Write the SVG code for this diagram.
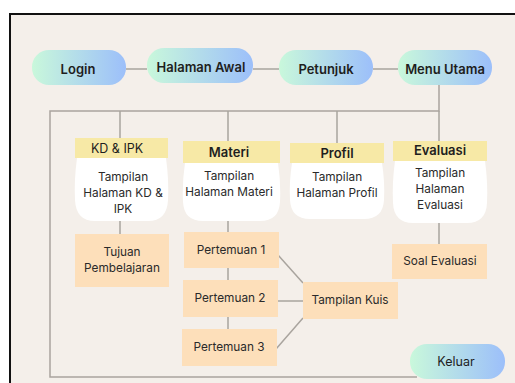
<svg xmlns="http://www.w3.org/2000/svg" width="515" height="383" viewBox="0 0 515 383">
<defs>
<linearGradient id="pill" x1="0" y1="0" x2="1" y2="0">
<stop offset="0" stop-color="#C9F8DB"/>
<stop offset="1" stop-color="#9CBFFA"/>
</linearGradient>
<style>
.pill{fill:url(#pill);}
.t{font-family:Inter,"Noto Sans",sans-serif;fill:#1e1e1e;text-anchor:middle;}
.b{font-weight:600;font-size:13px;}
.r{font-size:11.8px;fill:#2a2a2a;}
.hd{fill:#F7E9A6;}
.body{fill:#ffffff;}
.or{fill:#FDDFBA;}
.ln{stroke:#A9A49E;stroke-width:1.5;fill:none;}
</style>
</defs>
<rect width="515" height="383" fill="#ffffff"/>
<rect x="10" y="14" width="520" height="380" fill="#F4EFEA" stroke="#111" stroke-width="2"/>
<g id="connectors" class="ln">
<line x1="126" y1="69" x2="147" y2="69"/>
<line x1="253" y1="69" x2="279" y2="69"/>
<line x1="373" y1="69" x2="398" y2="69"/>
<polyline points="439,85 439,111 50,111 50,377 417,377"/>
<line x1="120" y1="111" x2="120" y2="138"/>
<line x1="228" y1="111" x2="228" y2="141"/>
<line x1="337" y1="111" x2="337" y2="143"/>
<line x1="439" y1="111" x2="439" y2="141"/>
<line x1="120" y1="221" x2="120" y2="234"/>
<line x1="228" y1="221" x2="228" y2="329"/>
<line x1="439" y1="223" x2="439" y2="244"/>
<line x1="278" y1="255" x2="303" y2="283"/>
<line x1="278" y1="301" x2="303" y2="301"/>
<line x1="276" y1="349" x2="303" y2="318"/>
</g>
<g id="login"><rect class="pill" x="32" y="50" width="94" height="35" rx="17"/><text class="t b" x="78" y="74">Login</text></g>
<g id="halaman-awal"><rect class="pill" x="147" y="48" width="106" height="35" rx="17"/><text class="t b" x="201" y="72">Halaman Awal</text></g>
<g id="petunjuk"><rect class="pill" x="279" y="50" width="94" height="35" rx="17"/><text class="t b" x="326" y="74">Petunjuk</text></g>
<g id="menu-utama"><rect class="pill" x="398" y="50" width="94" height="35" rx="17"/><text class="t b" x="445" y="74">Menu Utama</text></g>
<g id="kd-ipk">
<rect class="hd" x="75" y="138" width="93" height="20"/>
<path class="body" d="M77 158 H166 Q169 180 168 200 Q167 221 148 221 H95 Q76 221 75 200 Q74 180 77 158 Z"/>
<text class="t" x="117" y="153" font-size="12.5">KD &amp; IPK</text>
<text class="t r" x="123" y="181">Tampilan</text>
<text class="t r" x="123" y="197">Halaman KD &amp;</text>
<text class="t r" x="123" y="213">IPK</text>
</g>
<g id="materi">
<rect class="hd" x="183" y="141" width="97" height="22"/>
<path class="body" d="M185 163 H278 Q281 183 280 202 Q279 221 260 221 H203 Q184 221 183 202 Q182 183 185 163 Z"/>
<text class="t b" x="229" y="157" font-size="12.5">Materi</text>
<text class="t r" x="229" y="180">Tampilan</text>
<text class="t r" x="229" y="196">Halaman Materi</text>
</g>
<g id="profil">
<rect class="hd" x="290" y="143" width="94" height="20"/>
<path class="body" d="M292 163 H382 Q385 182 384 200 Q383 219 364 219 H310 Q291 219 290 200 Q289 182 292 163 Z"/>
<text class="t b" x="337" y="158" font-size="12.5">Profil</text>
<text class="t r" x="337" y="181">Tampilan</text>
<text class="t r" x="337" y="197">Halaman Profil</text>
</g>
<g id="evaluasi">
<rect class="hd" x="393" y="141" width="94" height="20"/>
<path class="body" d="M395 161 H485 Q488 183 487 203 Q486 223 467 223 H413 Q394 223 393 203 Q392 183 395 161 Z"/>
<text class="t b" x="440" y="155" font-size="12.5">Evaluasi</text>
<text class="t r" x="440" y="177">Tampilan</text>
<text class="t r" x="440" y="193">Halaman</text>
<text class="t r" x="440" y="209">Evaluasi</text>
</g>
<g id="tujuan"><rect class="or" x="75" y="234" width="94" height="53"/><text class="t r" x="122" y="256">Tujuan</text><text class="t r" x="122" y="272">Pembelajaran</text></g>
<g id="pertemuan1"><rect class="or" x="184" y="232" width="95" height="36"/><text class="t r" x="231" y="254">Pertemuan 1</text></g>
<g id="pertemuan2"><rect class="or" x="183" y="280" width="95" height="37"/><text class="t r" x="230" y="302">Pertemuan 2</text></g>
<g id="pertemuan3"><rect class="or" x="182" y="329" width="95" height="37"/><text class="t r" x="229" y="351">Pertemuan 3</text></g>
<g id="kuis"><rect class="or" x="303" y="282" width="95" height="37"/><text class="t r" x="350" y="304">Tampilan Kuis</text></g>
<g id="soal-evaluasi"><rect class="or" x="392" y="244" width="95" height="35"/><text class="t r" x="440" y="265">Soal Evaluasi</text></g>
<g id="keluar"><rect class="pill" x="410" y="344" width="95" height="35" rx="17"/><text class="t" x="456" y="366" font-size="12.5">Keluar</text></g>
</svg>
